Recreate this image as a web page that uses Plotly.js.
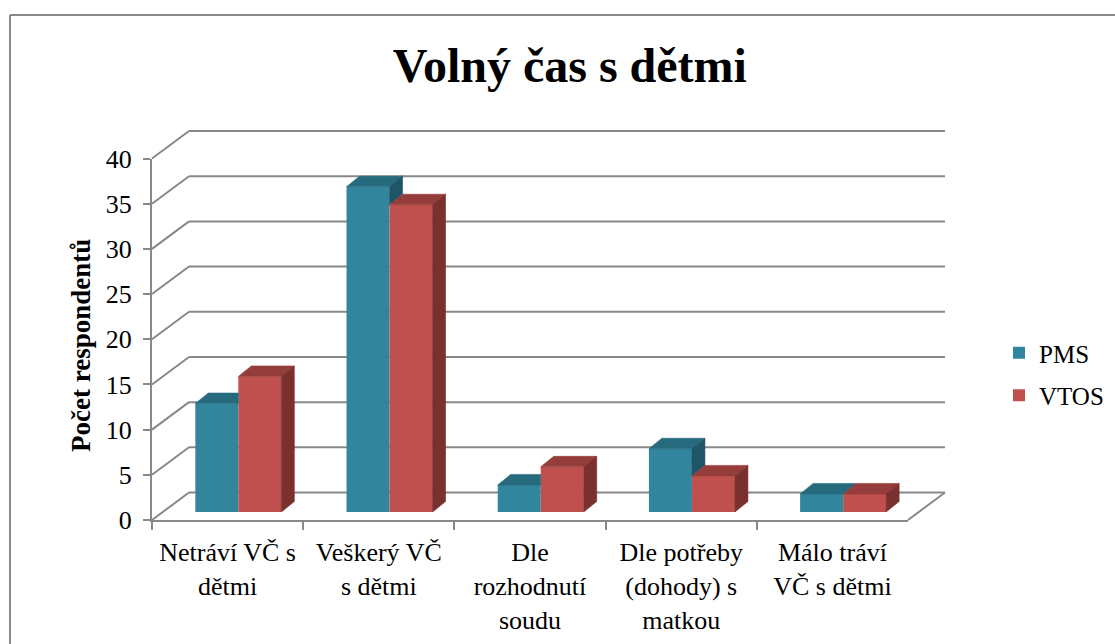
<!DOCTYPE html>
<html>
<head>
<meta charset="utf-8">
<script src="https://cdn.plot.ly/plotly-3.0.1.min.js"></script>
<style>html,body{margin:0;padding:0;background:#fff;}#chart{width:1115px;height:644px;}</style>
</head>
<body>
<div id="chart"></div>
<script>
// ---- data ----
const chartTitle = "Volný čas s dětmi";
const yTitle = "Počet respondentů";
const categories = ["Netráví VČ s<br>dětmi", "Veškerý VČ<br>s dětmi", "Dle<br>rozhodnutí<br>soudu", "Dle potřeby<br>(dohody) s<br>matkou", "Málo tráví<br>VČ s dětmi"];
const seriesNames = ["PMS", "VTOS"];
const pmsValues = [12, 36, 3, 7, 2];
const vtosValues = [15, 34, 5, 4, 2];
const yTickValues = [0, 5, 10, 15, 20, 25, 30, 35, 40];

// ---- geometry (pixels) ----
const W = 1115, H = 644;
const px = x => x / W;
const py = y => 1 - y / H;
const FX0 = 152, FX1 = 908, FY0 = 520, FY40 = 158.5;   // front plane
const DX = 37, DY = 27.5;                               // wall depth
const BF = 0.29;                                        // bar plane depth fraction
const BX0 = FX0 + BF * DX, BX1 = FX1 + BF * DX, BY0 = FY0 - BF * DY, BY40 = FY40 - BF * DY;
const catPx = (FX1 - FX0) / categories.length;
const unitPx = (FY0 - FY40) / 40;
const barW = 43 / catPx;          // bar width in category units
const ddx = 13 / catPx;           // bar depth (x) in category units
const ddy = 10.5 / unitPx;        // bar depth (y) in value units

const colors = {
  pmsFront: "#31859C", pmsTop: "#256A7D", pmsSide: "#1F5667",
  vtosFront: "#C0504D", vtosTop: "#943D3B", vtosSide: "#7A302E"
};
const gridColor = "#888888";
const serif = "Liberation Serif";

const idx = categories.map((c, i) => i);

const traces = [];
traces.push({
  type: "bar", name: seriesNames[0], x: idx, y: pmsValues, width: barW, offset: -barW,
  marker: {color: colors.pmsFront}, legendgroup: "a", hoverinfo: "y"
});
traces.push({
  type: "bar", name: seriesNames[1], x: idx, y: vtosValues, width: barW, offset: 0,
  marker: {color: colors.vtosFront}, legendgroup: "b", hoverinfo: "y"
});

function poly(xs, ys, color) {
  traces.push({
    type: "scatter", mode: "lines", x: xs.concat([xs[0]]), y: ys.concat([ys[0]]),
    fill: "toself", fillcolor: color, line: {color: color, width: 0.6},
    showlegend: false, hoverinfo: "skip"
  });
}

idx.forEach(i => {
  const v = pmsValues[i], v2 = vtosValues[i];
  // PMS top face
  if (v2 > v) {
    poly([i - barW, i, i, i - barW + ddx], [v, v, v + ddy, v + ddy], colors.pmsTop);
  } else {
    poly([i - barW, i, i + ddx, i - barW + ddx], [v, v, v + ddy, v + ddy], colors.pmsTop);
  }
  // PMS side face (visible part above VTOS)
  if (v > v2) {
    poly([i, i, i + ddx, i + ddx], [v2, v, v + ddy, v2 + ddy], colors.pmsSide);
  }
  // VTOS top face
  poly([i, i + barW, i + barW + ddx, i + ddx], [v2, v2, v2 + ddy, v2 + ddy], colors.vtosTop);
  // VTOS side face
  poly([i + barW, i + barW, i + barW + ddx, i + barW + ddx], [0, v2, v2 + ddy, ddy], colors.vtosSide);
});

// helper trace for the front category axis
traces.push({
  type: "scatter", mode: "markers", x: categories, y: categories.map(() => 0),
  xaxis: "x3", yaxis: "y3", marker: {opacity: 0}, showlegend: false, hoverinfo: "skip"
});

// ---- wall shapes ----
const shapes = [];
const line = (x0, y0, x1, y1) => shapes.push({
  type: "line", xref: "paper", yref: "paper", layer: "below",
  x0: px(x0), y0: py(y0), x1: px(x1), y1: py(y1),
  line: {color: gridColor, width: 2}
});
const frontY = t => FY0 - t * unitPx;
const backY = t => frontY(t) - DY;
yTickValues.forEach(t => {
  line(FX0, frontY(t), FX0 + DX, backY(t));           // left wall
  line(FX0 + DX, backY(t), FX1 + DX, backY(t));       // back wall
});
line(FX1, FY0, FX1 + DX, FY0 - DY);                   // floor right edge
// outer chart border
line(10, 660, 10, 15);
line(10, 15, 1130, 15);

const layout = {
  width: W, height: H,
  margin: {l: 0, r: 0, t: 0, b: 0},
  paper_bgcolor: "#ffffff", plot_bgcolor: "rgba(0,0,0,0)",
  font: {family: serif, color: "#000000"},
  title: {
    text: chartTitle, x: 0.511, xref: "paper", xanchor: "center",
    y: py(65), yref: "paper", yanchor: "middle",
    font: {family: serif, size: 48, weight: "bold", color: "#000"}
  },
  showlegend: true,
  legend: {
    x: px(999), y: py(330), xanchor: "left", yanchor: "top",
    font: {family: serif, size: 25, color: "#000"},
    traceorder: "grouped", tracegroupgap: 7, bgcolor: "rgba(0,0,0,0)"
  },
  xaxis: {
    domain: [px(BX0), px(BX1)], range: [-0.5, categories.length - 0.5],
    visible: false, fixedrange: true, anchor: "y"
  },
  yaxis: {
    domain: [py(BY0), py(BY40)], range: [0, 40],
    visible: false, fixedrange: true, anchor: "x"
  },
  xaxis3: {
    domain: [px(FX0), px(FX1)], type: "category", anchor: "y3",
    categoryorder: "array", categoryarray: categories,
    range: [-0.5, categories.length - 0.5],
    tickson: "boundaries", ticks: "outside", ticklen: 8, tickwidth: 2, tickcolor: gridColor,
    showline: true, linecolor: gridColor, linewidth: 2, showgrid: false, zeroline: false,
    ticklabelstandoff: 8,
    tickfont: {family: serif, size: 26, color: "#000"}, tickangle: 0, fixedrange: true
  },
  yaxis3: {
    domain: [py(FY0), py(FY40)], range: [0, 40], anchor: "x3",
    tickvals: yTickValues, ticks: "outside", ticklen: 7, tickwidth: 2, tickcolor: gridColor,
    showline: true, linecolor: gridColor, linewidth: 2, showgrid: false, zeroline: false,
    ticklabelstandoff: 6,
    tickfont: {family: serif, size: 26, color: "#000"}, fixedrange: true
  },
  shapes: shapes,
  annotations: [{
    text: "<b>" + yTitle + "</b>", xref: "paper", yref: "paper",
    x: px(81), y: py(345), xanchor: "center", yanchor: "middle",
    textangle: -90, showarrow: false,
    font: {family: serif, size: 27, color: "#000"}
  }],
  barmode: "overlay"
};

Plotly.newPlot("chart", traces, layout, {displayModeBar: false, staticPlot: true});
</script>
</body>
</html>
